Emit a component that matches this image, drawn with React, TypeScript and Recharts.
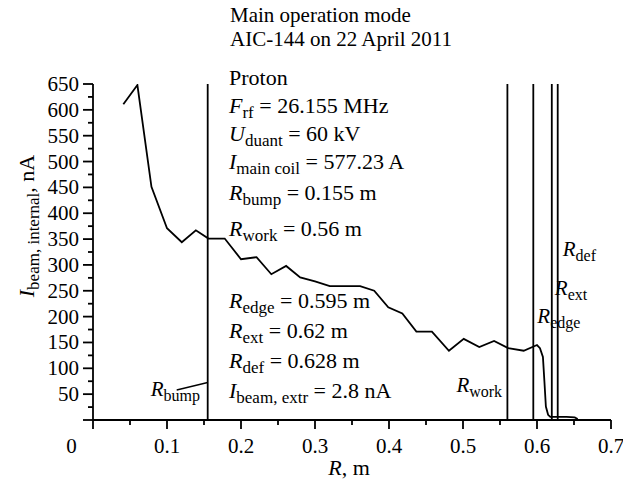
import { LineChart, Line, XAxis, YAxis, ReferenceLine } from 'recharts';

// measured beam current along the radius
const radius = [
  0.041, 0.06, 0.079, 0.1, 0.12, 0.139, 0.156, 0.178, 0.2, 0.221, 0.241, 0.261, 0.28, 0.3, 0.32, 0.361, 0.38,
  0.399, 0.418, 0.437, 0.458, 0.481, 0.501, 0.522, 0.542, 0.561, 0.582, 0.6, 0.604, 0.608, 0.61, 0.612, 0.615,
  0.618, 0.64, 0.651, 0.655,
];
const current = [
  611, 648, 451, 371, 344, 367, 351, 351, 311, 315, 282, 298, 276, 268, 259, 259, 250,
  218, 206, 171, 171, 134, 157, 141, 153, 139, 134, 145, 139, 122, 75, 26, 10,
  6, 6, 5, 2,
];

const xTicks = [0, 0.05, 0.1, 0.15, 0.2, 0.25, 0.3, 0.35, 0.4, 0.45, 0.5, 0.55, 0.6, 0.65, 0.7];
const yTicks = [
  0, 25, 50, 75, 100, 125, 150, 175, 200, 225, 250, 275, 300, 325, 350, 375, 400, 425, 450, 475, 500, 525,
  550, 575, 600, 625, 650,
];

const markerNames = ['bump', 'work', 'edge', 'ext', 'def'];
const markerRadii = [0.155, 0.56, 0.595, 0.62, 0.628];

const titleLines = ['Main operation mode', 'AIC-144 on 22 April 2011'];

// [symbol, subscript, rest]
const paramsTop: [string, string, string][] = [
  ['', '', 'Proton'],
  ['F', 'rf', ' = 26.155 MHz'],
  ['U', 'duant', ' = 60 kV'],
  ['I', 'main coil', ' = 577.23 A'],
  ['R', 'bump', ' = 0.155 m'],
  ['R', 'work', ' = 0.56 m'],
];
const paramsBottom: [string, string, string][] = [
  ['R', 'edge', ' = 0.595 m'],
  ['R', 'ext', ' = 0.62 m'],
  ['R', 'def', ' = 0.628 m'],
  ['I', 'beam, extr', ' = 2.8 nA'],
];

const data = radius.map((r, i) => ({ r, cur: current[i] }));

const FONT = "'Liberation Serif', 'Times New Roman', serif";
const FS = 21;

function SubText({ x, y, sym, sub, rest, anchor, transform, fs = 21, ss = 16 }: any) {
  return (
    <text x={x} y={y} fontFamily={FONT} fontSize={fs} fill="#000" textAnchor={anchor || 'start'} transform={transform} style={{ whiteSpace: 'pre' }}>
      {sym && <tspan fontStyle="italic">{sym}</tspan>}
      {sub && <tspan fontSize={ss} dy={5}>{sub}</tspan>}
      {rest && <tspan dy={sub ? -5 : 0}>{rest}</tspan>}
    </text>
  );
}

const isMajor = (v: number, step: number) => Math.abs(v / step - Math.round(v / step)) < 1e-6;

function XTick({ x, y, payload }: any) {
  const v = payload.value;
  const major = isMajor(v, 0.1);
  return (
    <g>
      <line x1={x} y1={y} x2={x} y2={y + (major ? 9 : 5)} stroke="#000" strokeWidth={1.8} />
      {major && (
        <text x={v === 0 ? x - 21.5 : x} y={y + 33} textAnchor="middle" fontFamily={FONT} fontSize={FS} fill="#000">
          {v === 0 ? '0' : String(v)}
        </text>
      )}
    </g>
  );
}

function YTick({ x, y, payload }: any) {
  const v = payload.value;
  const major = isMajor(v, 50);
  return (
    <g>
      <line x1={x - (major ? 10 : 5)} y1={y} x2={x} y2={y} stroke="#000" strokeWidth={1.8} />
      {major && v !== 0 && (
        <text x={x - 14} y={y + 7} textAnchor="end" fontFamily={FONT} fontSize={FS} fill="#000">
          {v}
        </text>
      )}
    </g>
  );
}

function markerLabel(name: string) {
  return (props: any) => {
    const vb = props.viewBox || {};
    const lx = vb.x;
    const b = vb.y + vb.height;
    if (name === 'bump') {
      return (
        <g>
          <line x1={lx - 31} y1={b - 30} x2={lx} y2={b - 37.5} stroke="#000" strokeWidth={1.3} />
          <SubText x={lx - 57} y={b - 24} sym="R" sub="bump" />
        </g>
      );
    }
    if (name === 'work') return <SubText x={lx - 51} y={b - 28} sym="R" sub="work" />;
    if (name === 'edge') return <SubText x={lx + 4} y={b - 97} sym="R" sub="edge" />;
    if (name === 'ext') return <SubText x={lx + 3} y={b - 125} sym="R" sub="ext" />;
    return <SubText x={lx + 5} y={b - 164} sym="R" sub="def" />;
  };
}

export default function App() {
  return (
    <div style={{ position: 'relative', width: 623, height: 489, background: '#fff' }}>
      <style>{'body{margin:0;background:#fff}'}</style>
      <LineChart width={623} height={489} data={data} margin={{ top: 84, right: 12, left: 33, bottom: 39 }}>
        <XAxis
          dataKey="r"
          type="number"
          domain={[0, 0.7]}
          ticks={xTicks}
          interval={0}
          height={30}
          tickSize={0}
          tickMargin={0}
          tickLine={false}
          tick={<XTick />}
          axisLine={{ stroke: '#000', strokeWidth: 1.8 }}
          allowDataOverflow
        />
        <YAxis
          type="number"
          domain={[0, 650]}
          ticks={yTicks}
          interval={0}
          width={60}
          tickSize={0}
          tickMargin={0}
          tickLine={false}
          tick={<YTick />}
          axisLine={{ stroke: '#000', strokeWidth: 1.8 }}
          allowDataOverflow
        />
        {markerRadii.map((r, i) => (
          <ReferenceLine
            key={markerNames[i]}
            x={r}
            stroke="#000"
            strokeWidth={1.8}
            ifOverflow="visible"
            label={markerLabel(markerNames[i])}
          />
        ))}
        <Line
          type="linear"
          dataKey="cur"
          stroke="#000"
          strokeWidth={1.8}
          dot={false}
          activeDot={false}
          isAnimationActive={false}
        />
      </LineChart>
      <svg width={623} height={489} style={{ position: 'absolute', left: 0, top: 0, pointerEvents: 'none' }}>
        {titleLines.map((t, i) => (
          <text key={t} x={230} y={22 + i * 24} fontFamily={FONT} fontSize={FS} fill="#000">
            {t}
          </text>
        ))}
        {paramsTop.map(([s, sub, rest], i) => (
          <SubText key={i} x={229} y={[85, 113, 141, 169, 200, 236][i]} sym={s} sub={sub} rest={rest} fs={22} ss={17} />
        ))}
        {paramsBottom.map(([s, sub, rest], i) => (
          <SubText key={i} x={229} y={308 + i * 30} sym={s} sub={sub} rest={rest} fs={22} ss={17} />
        ))}
        <SubText x={0} y={0} sym="I" sub="beam, internal" rest=", nA" anchor="middle" transform="translate(34,226) rotate(-90)" fs={22} ss={17} />
        <SubText x={349} y={475} sym="R" rest=", m" anchor="middle" fs={22} />
      </svg>
    </div>
  );
}
